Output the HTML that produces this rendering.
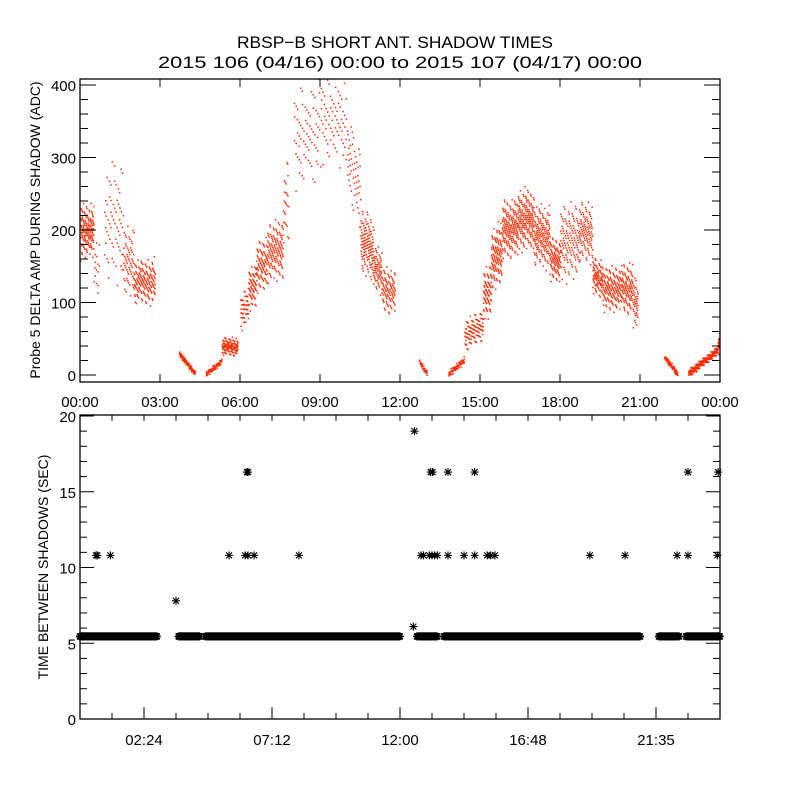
<!DOCTYPE html>
<html><head><meta charset="utf-8"><style>
html,body{margin:0;padding:0;background:#fff;}
svg{display:block;font-family:"Liberation Sans",sans-serif;}
</style></head><body>
<svg id="chart" width="800" height="800" viewBox="0 0 800 800">
<rect width="800" height="800" fill="#fff"/>
<text x="395" y="48" font-size="17" text-anchor="middle" textLength="316" lengthAdjust="spacingAndGlyphs">RBSP−B SHORT ANT. SHADOW TIMES</text>
<text x="400" y="68" font-size="17" text-anchor="middle" textLength="484" lengthAdjust="spacingAndGlyphs">2015 106 (04/16) 00:00 to 2015 107 (04/17) 00:00</text>
<g id="topPanel"></g>
<g id="botPanel"></g>
</svg>
<script>
// ---- Top panel data (hours, value envelope) ----
const segStart = [0.0,0.5,0.9,1.6,2.0,3.7,4.7,5.3,6.0,6.3,6.6,7.0,7.6,8.0,9.0,10.0,10.5,11.0,11.3,12.7,13.8,14.4,15.1,15.4,15.8,16.4,17.0,17.6,18.0,18.7,19.2,19.6,20.3,20.7,21.9,22.8,23.9];
const segEnd   = [0.5,0.7,1.6,2.0,2.8,4.3,5.3,5.9,6.3,6.6,7.0,7.6,7.8,9.0,10.0,10.5,11.0,11.3,11.8,13.0,14.4,15.1,15.4,15.8,16.4,17.0,17.6,18.0,18.7,19.2,19.6,20.3,20.7,20.9,22.4,23.9,24.0];
const segV0    = [200,150,210,160,130,30,2,40,85,120,150,170,230,330,360,300,190,150,120,20,2,55,110,160,200,215,195,160,185,200,140,120,120,105,25,3,40];
const segV1    = [200,150,210,160,130,3,20,40,100,125,155,175,240,340,340,260,170,140,115,2,22,70,120,170,205,215,190,160,185,195,130,120,120,100,2,35,55];
const segSpread= [35,40,80,45,30,4,4,12,25,30,35,40,60,70,60,60,45,30,30,4,5,22,35,40,40,40,40,30,50,40,25,30,35,35,4,6,12];
const segCount = [130,15,60,60,150,80,60,110,50,60,80,130,25,70,70,50,120,60,90,30,60,100,70,110,160,160,150,90,120,100,80,140,90,40,60,180,25];
// ---- Bottom panel data ----
const bandStart = [0.0,3.7,4.7,12.64,13.65,21.71,22.73];
const bandEnd   = [2.9,4.5,12.0,13.39,21.0,22.46,24.0];
const bandValue = [5.45,5.45,5.45,5.45,5.45,5.45,5.45];
const outHours  = [0.6,0.65,1.14,3.6,5.59,6.19,6.3,6.53,6.26,6.3,8.21,12.54,12.5,12.79,12.88,13.1,13.2,13.3,13.4,13.8,14.4,14.8,15.27,15.4,15.56,19.12,20.44,22.39,22.8,23.9,13.15,13.22,13.8,14.8,22.8,23.93];
const outValues = [10.8,10.8,10.8,7.8,10.8,10.8,10.8,10.8,16.3,16.3,10.8,19.0,6.1,10.8,10.8,10.8,10.8,10.8,10.8,10.8,10.8,10.8,10.8,10.8,10.8,10.8,10.8,10.8,10.8,10.8,16.3,16.3,16.3,16.3,16.3,16.3];
const topYTicks = [0,100,200,300,400];
const topXLabels = ["00:00","03:00","06:00","09:00","12:00","15:00","18:00","21:00","00:00"];
const botYTicks = [0,5,10,15,20];
const botXLabels = ["02:24","07:12","12:00","16:48","21:35"];

const NS="http://www.w3.org/2000/svg";
function mk(tag,attrs,parent){const e=document.createElementNS(NS,tag);for(const k in attrs)e.setAttribute(k,attrs[k]);parent.appendChild(e);return e;}
const L=80,R=720;
const xh=h=>L+(R-L)*h/24;
const T1=79,B1=382; const yt=v=>375-v*0.725;
const T2=415,B2=719; const yb=v=>719-v*(719-416)/20;

// ---- Top panel ----
const topG=document.getElementById('topPanel');
const clip=mk('clipPath',{id:'c1'},topG);mk('rect',{x:L,y:T1,width:R-L,height:B1-T1},clip);
const dots=mk('g',{'clip-path':'url(#c1)',fill:'#ff2a00'},topG);


for(let s=0;s<segStart.length;s++){
  const n=segCount[s];
  for(let i=0;i<n;i++){
    const f=(i+0.5)/n;
    const fx=Math.min(1,Math.max(0,f+(((i*0.7548777+s*0.13)%1)-0.5)/n*3));
    const h=segStart[s]+(segEnd[s]-segStart[s])*fx;
    const c=segV0[s]+(segV1[s]-segV0[s])*fx;
    const u1=(i*0.5698403+s*0.37)%1, u2=(i*0.8191725+s*0.21)%1;
    const j=(u1+u2-1);
    const v=c+segSpread[s]*j*1.2;
    const r=mk('rect',{x:xh(h).toFixed(1),y:yt(v).toFixed(1),width:1.5,height:1.5},dots);
    
    
  }
}
const f1=mk('rect',{x:L,y:T1,width:R-L,height:B1-T1,fill:'none',stroke:'#000','stroke-width':1.3},topG);

for(let v=0;v<=400;v+=20){const y=yt(v);const len=(v%100===0)?16:8;
  mk('line',{x1:L,x2:L+len,y1:y,y2:y,stroke:'#000'},topG);mk('line',{x1:R,x2:R-len,y1:y,y2:y,stroke:'#000'},topG);}
topYTicks.forEach(v=>{const t=mk('text',{x:L-4,y:yt(v)+6,'font-size':15,'text-anchor':'end'},topG);t.textContent=v;
  });
topXLabels.forEach((lab,i)=>{const x=xh(i*3);
  mk('line',{x1:x,x2:x,y1:B1,y2:B1-8,stroke:'#000'},topG);mk('line',{x1:x,x2:x,y1:T1,y2:T1+8,stroke:'#000'},topG);
  const t=mk('text',{x:x,y:407,'font-size':15,'text-anchor':'middle'},topG);t.textContent=lab;
  });
const yt1=mk('text',{x:0,y:0,'font-size':14,'text-anchor':'middle',transform:'translate(40,230) rotate(-90)'},topG);
yt1.textContent='Probe 5 DELTA AMP DURING SHADOW (ADC)';


// ---- Bottom panel ----
const botG=document.getElementById('botPanel');
function star(g,x,y,sw){const d=4;
  const p=mk('path',{d:`M${x-d} ${y}H${x+d}M${x} ${y-d}V${y+d}M${x-d*0.75} ${y-d*0.75}L${x+d*0.75} ${y+d*0.75}M${x-d*0.75} ${y+d*0.75}L${x+d*0.75} ${y-d*0.75}`,stroke:'#000','stroke-width':sw,fill:'none'},g);
  return p;}
const band=mk('g',{},botG);

for(let s=0;s<bandStart.length;s++){
  for(let h=bandStart[s];h<=bandEnd[s]+1e-6;h+=0.03){
    const p=star(band,xh(h),yb(bandValue[s]),1.6);
    }
}
const outs=mk('g',{},botG);

outHours.forEach((h,i)=>{const p=star(outs,xh(h),yb(outValues[i]),1.1);
  });
const f2=mk('rect',{x:L,y:T2,width:R-L,height:B2-T2,fill:'none',stroke:'#000','stroke-width':1.3},botG);

for(let v=0;v<=20;v+=1){const y=yb(v);const len=(v%5===0)?14:7;
  mk('line',{x1:L,x2:L+len,y1:y,y2:y,stroke:'#000'},botG);mk('line',{x1:R,x2:R-len,y1:y,y2:y,stroke:'#000'},botG);}
botYTicks.forEach(v=>{const t=mk('text',{x:L-4,y:yb(v)+6,'font-size':15,'text-anchor':'end'},botG);t.textContent=v;
  });
for(let k=0;k<=20;k++){const x=L+32*k;
  mk('line',{x1:x,x2:x,y1:B2,y2:B2-6,stroke:'#000'},botG);mk('line',{x1:x,x2:x,y1:T2,y2:T2+6,stroke:'#000'},botG);}
botXLabels.forEach((lab,i)=>{const x=L+64*(2*i+1);
  mk('line',{x1:x,x2:x,y1:B2,y2:B2-12,stroke:'#000'},botG);
  const t=mk('text',{x:x,y:745,'font-size':15,'text-anchor':'middle'},botG);t.textContent=lab;
  });
const yt2=mk('text',{x:0,y:0,'font-size':14,'text-anchor':'middle',transform:'translate(48,567) rotate(-90)'},botG);
yt2.textContent='TIME BETWEEN SHADOWS (SEC)';

</script>
</body></html>
